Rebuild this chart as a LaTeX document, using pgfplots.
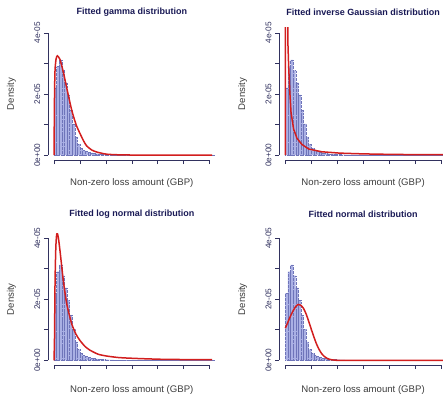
\documentclass[border=0pt]{standalone}
\usepackage{pgfplots}
\usepackage{pgfplotstable}
\pgfplotsset{compat=1.18}
\usepackage{fontspec}
\setmainfont{Liberation Sans}
\definecolor{axc}{RGB}{50,50,95}
\definecolor{titc}{RGB}{25,25,85}
\definecolor{labc}{RGB}{60,60,60}
\definecolor{histfill}{RGB}{170,176,228}
\definecolor{histdraw}{RGB}{110,116,185}
\definecolor{curvec}{RGB}{210,30,30}

% histogram (density in units of 1e-05, x in tick units)
\pgfplotstableread{
x y
0.0 2.2
0.1 2.9
0.2 3.12
0.3 2.77
0.4 2.37
0.5 1.97
0.6 1.47
0.7 1.02
0.8 0.6
0.9 0.36
1.0 0.23
1.1 0.16
1.2 0.12
1.3 0.09
1.4 0.07
1.5 0.055
1.6 0.045
1.7 0.035
1.8 0.03
1.9 0.025
2.0 0.02
2.1 0.015
2.2 0.012
2.3 0.01
2.4 0.008
2.5 0.006
2.6 0.005
2.7 0.004
2.8 0.003
2.9 0.003
3.0 0.002
3.1 0.002
3.2 0.001
3.3 0.001
3.4 0.001
3.5 0.001
3.6 0
3.7 0
3.8 0
3.9 0
4.0 0
4.1 0
4.2 0
4.3 0
4.4 0
4.5 0
4.6 0
4.7 0
4.8 0
4.9 0
5.0 0
5.1 0
5.2 0
5.3 0
5.4 0
5.5 0
5.6 0
5.7 0
5.8 0
5.9 0
6.0 0
6.1 0
6.2 0
}\hist

\pgfplotsset{rpanel/.style={
  scale only axis, width=168pt, height=132pt,
  xmin=-0.24, xmax=6.24, ymin=-0.16, ymax=4.16,
  axis x line*=bottom, axis y line*=left,
  x axis line style={-, shorten <=6.22pt, shorten >=6.22pt, draw=axc, line width=0.6pt},
  y axis line style={-, shorten <=4.89pt, shorten >=4.89pt, draw=axc, line width=0.6pt},
  xtick={0,1,2,3,4,5,6}, xticklabels={},
  ytick={0,1,2,3,4}, yticklabels={0e+00,,2e-05,,4e-05},
  tick align=outside, major tick length=4pt,
  tick style={draw=axc, line width=0.6pt},
  yticklabel style={rotate=90, anchor=south, font=\fontsize{8.3}{9}\selectfont, text=axc},
  title style={font=\bfseries\fontsize{9}{10.5}\selectfont, text=titc, anchor=center},
  xlabel style={font=\fontsize{9.6}{11}\selectfont, text=labc, anchor=center},
  ylabel style={font=\fontsize{9.6}{11}\selectfont, text=labc, anchor=center, at={(axis description cs:-0.2173,0.5)}},
  xlabel={Non-zero loss amount (GBP)}, ylabel={Density},
  clip=true,
},
toprow/.style={title style={at={(axis description cs:0.5,1.076)}}, xlabel style={at={(axis description cs:0.5,-0.177)}}},
botrow/.style={title style={at={(axis description cs:0.5,1.098)}}, xlabel style={at={(axis description cs:0.5,-0.186)}}},
histstyle/.style={ybar interval, fill=histfill, draw=histdraw, densely dotted, line width=0.35pt},
curvestyle/.style={curvec, line width=1.5pt, solid},
}

\begin{document}
\begin{tikzpicture}
\useasboundingbox (0,0) rectangle (443pt,394pt);

% gamma
\begin{axis}[rpanel, toprow, at={(47.8pt,234pt)}, anchor=south west,
  title={Fitted gamma distribution}]
\addplot[histstyle] table[x=x,y=y]{\hist};
\addplot[curvestyle, smooth, tension=0.4] coordinates {
(0,0) (0.02,2.0) (0.04,2.8) (0.08,3.15) (0.13,3.25) (0.23,3.13) (0.35,2.75)
(0.49,2.2) (0.68,1.48) (0.85,1.0) (1.0,0.71) (1.15,0.45) (1.26,0.3) (1.45,0.17)
(1.65,0.1) (2.03,0.03) (2.5,0.01) (3,0.003) (4,0.001) (6.1,0)};
\end{axis}

% inverse Gaussian
\begin{axis}[rpanel, toprow, at={(279.1pt,234pt)}, anchor=south west,
  title={Fitted inverse Gaussian distribution}]
\addplot[histstyle] table[x=x,y=y]{\hist};
\addplot[curvestyle] coordinates {
(0,0) (0.003,6) (0.01,12) (0.06,10) (0.09,5) (0.1,3.65) (0.13,2.88) (0.17,2.11)
(0.22,1.4) (0.32,0.85) (0.45,0.55) (0.64,0.35) (0.9,0.2) (1.4,0.11) (2.1,0.065)
(3,0.04) (4,0.025) (5,0.016) (6.1,0.012)};
\end{axis}

% log normal
\begin{axis}[rpanel, botrow, at={(47.8pt,28.8pt)}, anchor=south west,
  title={Fitted log normal distribution}]
\addplot[histstyle] table[x=x,y=y]{\hist};
\addplot[curvestyle, smooth, tension=0.4] coordinates {
(0,0) (0.02,0.8) (0.04,2.6) (0.07,3.7) (0.1,4.1) (0.13,4.15) (0.17,4.0) (0.23,3.59)
(0.3,3.05) (0.36,2.6) (0.49,1.85) (0.68,1.2) (0.85,0.85) (1.0,0.65) (1.2,0.45)
(1.39,0.33) (1.7,0.2) (2.03,0.14) (2.5,0.09) (3.06,0.065) (3.7,0.045) (4.35,0.03)
(5.2,0.025) (6.1,0.02)};
\end{axis}

% normal
\begin{axis}[rpanel, botrow, at={(279.1pt,28.8pt)}, anchor=south west,
  title={Fitted normal distribution}]
\addplot[histstyle] table[x=x,y=y]{\hist};
\addplot[curvestyle, smooth, tension=0.4] coordinates {
(0,1.05) (0.1,1.25) (0.2,1.45) (0.3,1.62) (0.4,1.76) (0.5,1.83) (0.6,1.8) (0.7,1.7)
(0.8,1.52) (0.9,1.28) (1.0,1.02) (1.1,0.77) (1.2,0.54) (1.3,0.36) (1.4,0.22)
(1.5,0.13) (1.6,0.07) (1.7,0.035) (1.8,0.015) (2.0,0.003) (2.2,0) (6.1,0)};
\end{axis}
\end{tikzpicture}
\end{document}
